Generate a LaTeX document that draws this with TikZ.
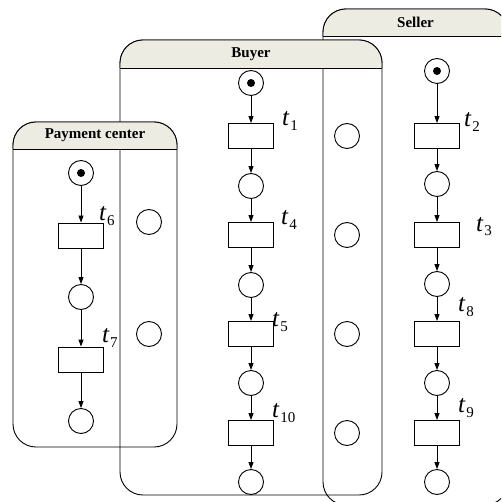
\documentclass[tikz,border=0pt]{standalone}
\usepackage{fontspec}
\setmainfont{Liberation Serif}
\usetikzlibrary{arrows.meta}
\definecolor{hdr}{RGB}{236,236,227}
\newcommand{\tsub}[1]{\textit{t}\kern0.6pt\raisebox{-5pt}{\fontsize{15}{15}\selectfont #1}}
\begin{document}
\begin{tikzpicture}[x=1pt,y=-1pt,
  place/.style={circle,draw,line width=0.9pt,minimum size=25pt,inner sep=0pt},
  trans/.style={rectangle,draw,line width=0.9pt,minimum width=45pt,minimum height=25pt,inner sep=0pt},
  arr/.style={line width=0.9pt,-{Triangle[length=7pt,width=5pt]}},
  tlabel/.style={inner sep=0pt,anchor=base west,font=\fontsize{25}{25}\selectfont},
  lane/.style={draw,line width=0.9pt,rounded corners=23pt},
  hdrbox/.style={fill=hdr,draw,line width=0.9pt,rounded corners=23pt},
  hdrline/.style={draw,line width=0.9pt},
  hdrtext/.style={font=\fontsize{15}{15}\selectfont\bfseries,inner sep=0pt}
]
\useasboundingbox (0,0) rectangle (501,502);
\clip (0,0) rectangle (501,502);

% Seller lane
\path[lane] (323,200) -- (323,505) -- (508,505) -- (508,9) -- (323,9) -- cycle;
\path[hdrbox] (508,36) -- (508,9) -- (323,9) -- (323,36);
\path[hdrline] (323,36) -- (508,36);
\node[hdrtext] (sellerhdr) at (415.5,22.5) {Seller};

% Buyer lane
\path[lane] (120,200) -- (120,495) -- (382,495) -- (382,40) -- (120,40) -- cycle;
\path[hdrbox] (382,68) -- (382,40) -- (120,40) -- (120,68);
\path[hdrline] (120,68) -- (382,68);
\node[hdrtext] (buyerhdr) at (251,54) {Buyer};

% Payment center lane
\path[lane] (13,300) -- (13,447) -- (177,447) -- (177,122) -- (13,122) -- cycle;
\path[hdrbox] (177,149) -- (177,122) -- (13,122) -- (13,149);
\path[hdrline] (13,149) -- (177,149);
\node[hdrtext] (payhdr) at (95,135.5) {Payment center};

% Payment center column
\node[place] (pa) at (81,173) {};
\fill (pa.center) circle[radius=4pt];
\node[trans] (t6) at (81,235.5) {};
\node[place] (pb) at (81,297) {};
\node[trans] (t7) at (81,359.5) {};
\node[place] (pc) at (81,421) {};

% interface places
\node[place] (m1) at (149,222) {};
\node[place] (m2) at (149,334) {};
\node[place] (n1) at (347,136) {};
\node[place] (n2) at (347,235) {};
\node[place] (n3) at (347,334) {};
\node[place] (n4) at (347,433) {};

% Buyer column
\node[place] (ba) at (251,83) {};
\fill (ba.center) circle[radius=4pt];
\node[trans] (t1) at (251,136) {};
\node[place] (bb) at (251,186) {};
\node[trans] (t4) at (251,235) {};
\node[place] (bc) at (251,285) {};
\node[trans] (t5) at (251,334) {};
\node[place] (bd) at (251,383) {};
\node[trans] (t10) at (251,433) {};
\node[place] (be) at (251,482) {};

% Seller column
\node[place] (sa) at (437,71) {};
\fill (sa.center) circle[radius=4pt];
\node[trans] (t2) at (437,136) {};
\node[place] (sb) at (437,184) {};
\node[trans] (t3) at (437,235) {};
\node[place] (sc) at (437,284) {};
\node[trans] (t8) at (437,334) {};
\node[place] (sd) at (437,383) {};
\node[trans] (t9) at (437,433) {};
\node[place] (se) at (437,482) {};

% arcs
\draw[arr] (pa) -- (t6);
\draw[arr] (t6) -- (pb);
\draw[arr] (pb) -- (t7);
\draw[arr] (t7) -- (pc);

\draw[arr] (ba) -- (t1);
\draw[arr] (t1) -- (bb);
\draw[arr] (bb) -- (t4);
\draw[arr] (t4) -- (bc);
\draw[arr] (bc) -- (t5);
\draw[arr] (t5) -- (bd);
\draw[arr] (bd) -- (t10);
\draw[arr] (t10) -- (be);

\draw[arr] (sa) -- (t2);
\draw[arr] (t2) -- (sb);
\draw[arr] (sb) -- (t3);
\draw[arr] (t3) -- (sc);
\draw[arr] (sc) -- (t8);
\draw[arr] (t8) -- (sd);
\draw[arr] (sd) -- (t9);
\draw[arr] (t9) -- (se);

% transition labels
\node[tlabel] (l1) at (282,126) {\tsub{1}};
\node[tlabel] (l4) at (281,225) {\tsub{4}};
\node[tlabel] (l5) at (272,326) {\tsub{5}};
\node[tlabel] (l10) at (272,417) {\tsub{10}};
\node[tlabel] (l2) at (464,127) {\tsub{2}};
\node[tlabel] (l3) at (476,231) {\tsub{3}};
\node[tlabel] (l8) at (458,311) {\tsub{8}};
\node[tlabel] (l9) at (458,412) {\tsub{9}};
\node[tlabel] (l6) at (99,221) {\tsub{6}};
\node[tlabel] (l7) at (102,342) {\tsub{7}};
\end{tikzpicture}
\end{document}
